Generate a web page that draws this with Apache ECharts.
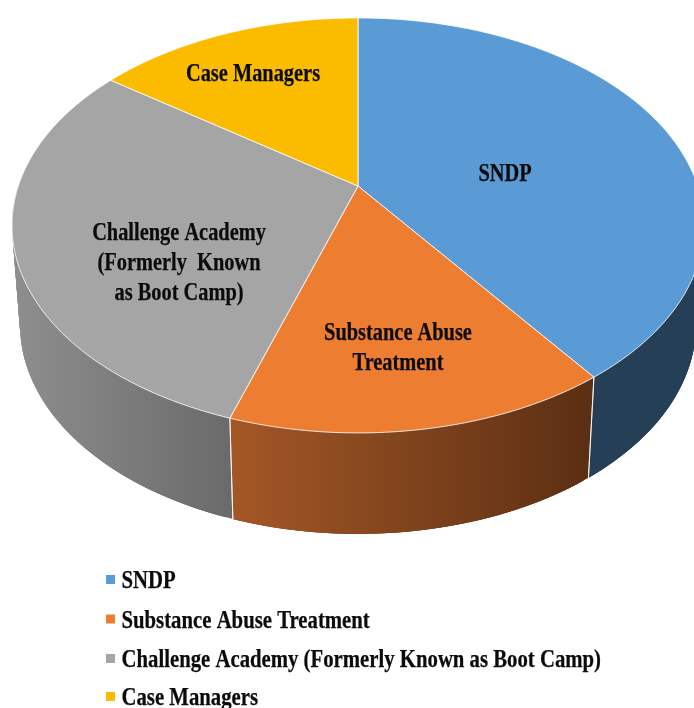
<!DOCTYPE html>
<html>
<head>
<meta charset="utf-8">
<style>html,body{margin:0;padding:0;background:#fff}#c{width:694px;height:708px}</style>
<script src="https://cdn.jsdelivr.net/npm/echarts@6/dist/echarts.min.js"></script>
</head>
<body>
<div id="c"></div>
<script>
const categories = ['SNDP', 'Substance Abuse Treatment', 'Challenge Academy (Formerly Known as Boot Camp)', 'Case Managers'];
const values = [40, 15, 30, 15];
const sliceLabels = [['SNDP'], ['Substance Abuse', 'Treatment'], ['Challenge Academy', '(Formerly  Known', 'as Boot Camp)'], ['Case Managers']];

const topColors = ['#5b9bd5', '#ed7d31', '#a5a5a5', '#fbbc00'];
const wallColors = [['#243f56', '#243f56'], ['#a45726', '#5b2f13'], ['#8e8e8e', '#6a6a6a'], ['#96700a', '#96700a']];
const wallSpans = [[590, 694], [233, 590], [14, 233], [100, 360]];
const labelCenters = [[505, 175], [398, 334], [179, 234], [253, 75]];
const labelLeading = 30;
const legendRows = [582, 621.5, 661, 699];
const k = 0.19;
const topPlane = { x: 358, y: 186, a: 339.7, b: 200 };
const basePlane = { x: 358, y: 285.3, a: 331.8, b: 201.4 };

const total = values.reduce((s, v) => s + v, 0);
function project(p, deg) {
  const t = deg * Math.PI / 180, u = Math.sin(t), v = -Math.cos(t), d = 1 - k * v;
  return [p.x + p.a * u / d, p.y + p.b * v / d];
}
function arc(p, from, to) {
  const pts = [], n = Math.ceil(to - from);
  for (let i = 0; i <= n; i++) pts.push(project(p, from + (to - from) * i / n));
  return pts;
}
const textStyle = { fontFamily: '"Liberation Serif"', fontWeight: 'bold', fontSize: 25,
  fill: '#0b0b0b', stroke: '#0b0b0b', lineWidth: 0.25, verticalAlign: 'middle' };
function renderSlice(index) {
  const before = values.slice(0, index).reduce((s, v) => s + v, 0);
  const from = before / total * 360, to = (before + values[index]) / total * 360;
  const children = [];
  // side wall: overlapping narrow facets on the near half only (angles 90..270)
  const wallFrom = Math.max(from, 90), wallTo = Math.min(to, 270);
  if (wallTo > wallFrom) {
    const topArc = arc(topPlane, wallFrom, wallTo);
    const baseArc = arc(basePlane, wallFrom, wallTo);
    const span = wallSpans[index];
    const wallFill = new echarts.graphic.LinearGradient(span[0], 0, span[1], 0, [
      { offset: 0, color: wallColors[index][0] }, { offset: 1, color: wallColors[index][1] }], true);
    for (let i = 0; i + 1 < topArc.length; i++) {
      const j = Math.min(i + 3, topArc.length - 1);
      children.push({
        type: 'polygon', z2: 1, silent: true,
        shape: { points: [topArc[i], topArc[j], baseArc[j], baseArc[i]] },
        style: { fill: wallFill }
      });
    }
    [[from, from >= 90], [to, to <= 270]].forEach(([deg, show]) => {
      if (show) children.push({
        type: 'polyline', z2: 2,
        shape: { points: [project(topPlane, deg), project(basePlane, deg)] },
        style: { fill: null, stroke: 'rgba(255,255,255,0.8)', lineWidth: 1 }
      });
    });
  }
  children.push({
    type: 'polygon', z2: 10,
    shape: { points: [[topPlane.x, topPlane.y]].concat(arc(topPlane, from, to)) },
    style: { fill: topColors[index], stroke: 'rgba(255,255,255,0.8)', lineWidth: 1 }
  });
  sliceLabels[index].forEach((line, i) => children.push({
    type: 'text', z2: 20,
    x: labelCenters[index][0], y: labelCenters[index][1] + i * labelLeading,
    scaleX: 0.815, scaleY: 1,
    style: Object.assign({ text: line, align: 'center' }, textStyle)
  }));
  // legend row for this slice
  children.push({
    type: 'rect', z2: 20,
    shape: { x: 106, y: legendRows[index] - 7, width: 9, height: 9 },
    style: { fill: topColors[index] }
  }, {
    type: 'text', z2: 20,
    x: 121.5, y: legendRows[index],
    scaleX: 0.83, scaleY: 1,
    style: Object.assign({ text: categories[index], align: 'left' }, textStyle)
  });
  return { type: 'group', children };
}
const chart = echarts.init(document.getElementById('c'), null, { renderer: 'canvas' });
chart.setOption({
  animation: false,
  backgroundColor: '#ffffff',
  series: categories.map((name, i) => ({
    type: 'custom', name,
    coordinateSystem: 'none',
    itemStyle: { color: topColors[i] },
    data: [[values[i]]],
    renderItem: () => renderSlice(i)
  }))
});
</script>
</body>
</html>
